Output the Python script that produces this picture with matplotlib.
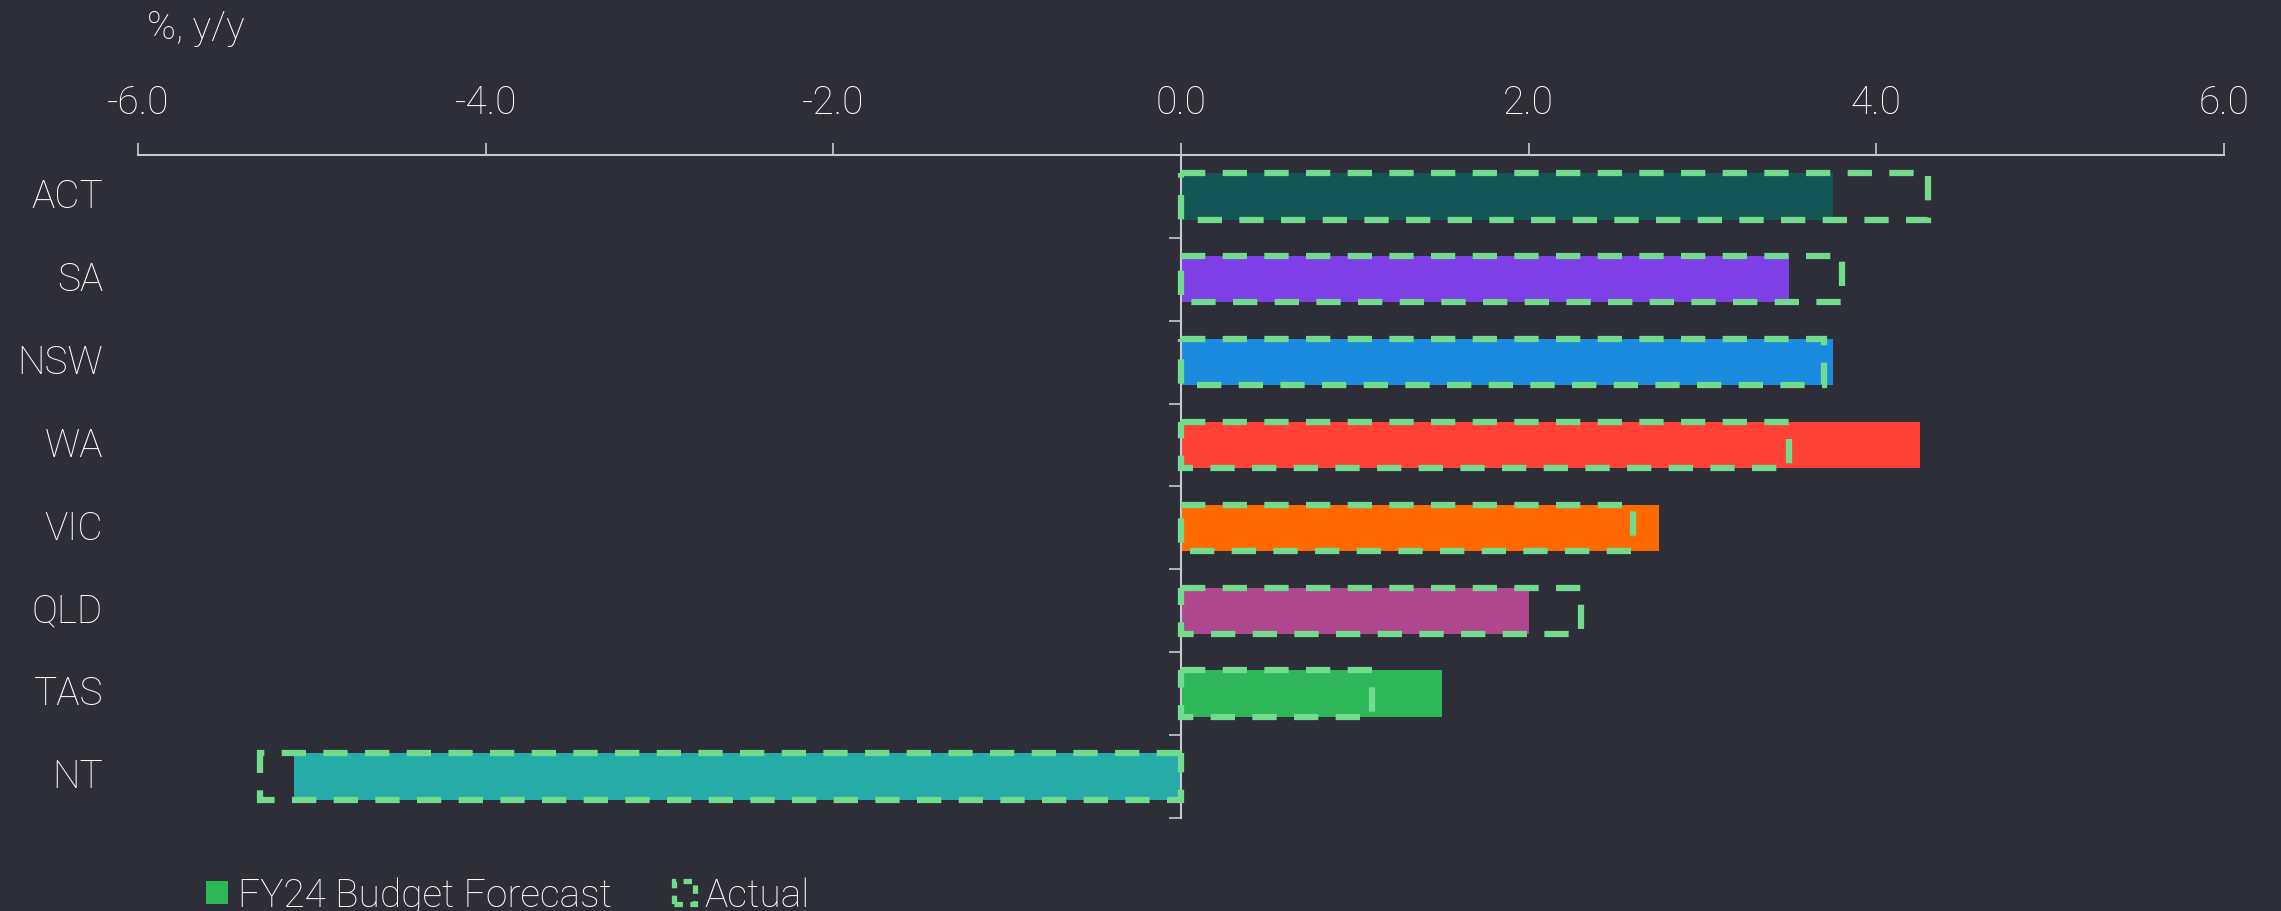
import matplotlib
matplotlib.use("Agg")
import matplotlib.pyplot as plt
import matplotlib.patches as mpatches
import matplotlib.transforms as mtransforms
from matplotlib.ticker import FixedLocator, FormatStrFormatter
import numpy as np

# ─── Data ──────────────────────────────────────────────────────────────────────

states   = ["ACT", "SA", "NSW", "WA", "VIC", "QLD", "TAS", "NT"]
forecast = [3.75, 3.50, 3.75, 4.25, 2.75, 2.00, 1.50, -5.10]
actual   = [4.30, 3.80, 3.70, 3.50, 2.60, 2.30, 1.10, -5.30]
bar_colors = ["#145656", "#7E3FE6", "#1B8BE0", "#FF4136",
              "#FF6A00", "#B0488F", "#2DB757", "#27ABA8"]
x_ticks = [-6, -4, -2, 0, 2, 4, 6]

# ─── Style ─────────────────────────────────────────────────────────────────────

BG     = "#2E2E38"
AXIS   = "#C8C8D0"
DASH   = "#72DB8E"
LEGEND_GREEN = "#2DB757"
FS = 28

plt.rcParams["font.family"] = ["Roboto", "DejaVu Sans"]
plt.rcParams["font.weight"] = "light"
plt.rcParams["axes.unicode_minus"] = False

fig = plt.figure(figsize=(22.81, 9.12), dpi=100, facecolor=BG)
ax = fig.add_axes([0.0605, 0.102, 0.975 - 0.0605, 0.829 - 0.102])
ax.set_facecolor(BG)

y = np.arange(len(states))
h = 0.56
ax.barh(y, forecast, height=h, color=bar_colors, zorder=2)

lw = 4.5
act = ax.barh(y, actual, height=h, facecolor="none", edgecolor=DASH,
              linewidth=lw, zorder=3)
for p in act:
    p.set_linestyle((0, (17.5 / lw, 12.5 / lw)))

ax.set_xlim(-6, 6)
ax.set_ylim(len(states) - 0.5, -0.5)

# spines
for s in ["right", "bottom"]:
    ax.spines[s].set_visible(False)
ax.spines["top"].set_color(AXIS)
ax.spines["top"].set_linewidth(1.5)
ax.spines["left"].set_position(("data", 0))
ax.spines["left"].set_color(AXIS)
ax.spines["left"].set_linewidth(1.5)

# x axis on top
ax.xaxis.set_ticks_position("top")
ax.xaxis.set_label_position("top")
ax.xaxis.set_major_locator(FixedLocator(x_ticks))
ax.xaxis.set_major_formatter(FormatStrFormatter("%.1f"))
ax.tick_params(axis="x", which="major", direction="out", length=8.4, width=1.2,
               color=AXIS, labelcolor="white", labelsize=FS, pad=16)

# y axis: boundary ticks on the zero line, labels drawn at the left edge
ax.yaxis.set_major_locator(FixedLocator([]))
ax.yaxis.set_minor_locator(FixedLocator(np.arange(0.5, len(states), 1.0)))
ax.tick_params(axis="y", which="minor", direction="out", length=8.3, width=1.2,
               color=AXIS)

trans = mtransforms.blended_transform_factory(ax.transAxes, ax.transData)
for yi, name in zip(y, states):
    ax.text(-0.0168, yi, name, transform=trans, ha="right", va="center",
            color="white", fontsize=FS)

fig.text(0.0644, 0.957, "%, y/y", color="white", fontsize=FS, va="baseline")

# legend
handles = [
    mpatches.Patch(facecolor=LEGEND_GREEN, edgecolor="none",
                   label="FY24 Budget Forecast"),
    mpatches.Patch(facecolor="none", edgecolor=DASH, linewidth=3.8,
                   linestyle=(0, (1.6, 1.4)), label="Actual"),
]
leg = fig.legend(handles=handles, loc="center left", bbox_to_anchor=(0.0905, 0.017),
                 ncol=2, frameon=False, fontsize=FS, handlelength=0.55,
                 handleheight=0.55, handletextpad=0.25, columnspacing=1.6,
                 borderpad=0, borderaxespad=0, labelcolor="white")

fig.savefig("out.png", dpi=100, facecolor=BG)
